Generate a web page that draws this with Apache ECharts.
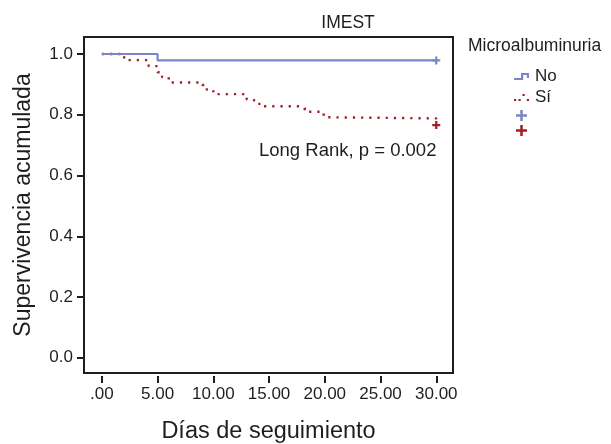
<!DOCTYPE html>
<html>
<head>
<meta charset="utf-8">
<script src="https://cdn.jsdelivr.net/npm/echarts@6/dist/echarts.min.js"></script>
<style>html,body{margin:0;padding:0;background:#fff}#c{width:611px;height:444px}</style>
</head>
<body>
<div id="c"></div>
<script>
// Kaplan-Meier step data [day, cumulative survival]
var noDays = [0, 5, 30];
var noSurv = [1.0, 0.979, 0.979];
var siDays = [0, 2, 4.2, 5, 5.4, 6, 9, 9.4, 10, 13, 13.5, 13.9, 14.5, 17.9, 18.2, 19.9, 20, 30];
var siSurv = [1.0, 0.98, 0.96, 0.94, 0.924, 0.906, 0.898, 0.883, 0.868, 0.85, 0.845, 0.836, 0.828, 0.822, 0.81, 0.792, 0.788, 0.766];
var noCensor = [[30, 0.979]];
var siCensor = [[30, 0.766]];
var xTicks = [0, 5, 10, 15, 20, 25, 30];
var yTicks = [0, 0.2, 0.4, 0.6, 0.8, 1.0];

var blue = '#7A86C6', red = '#A01E24', ink = '#1e1e1e';
function zip(a, b) { return a.map(function (v, i) { return [v, b[i]]; }); }
var crossLegend = 'path://M0,4.25H4.25V0H6.75V4.25H11V6.75H6.75V11H4.25V6.75H0Z';
var crossPlot = 'path://M0,3.6H3.6V0H6.4V3.6H10V6.4H6.4V10H3.6V6.4H0Z';
var font = 'Liberation Sans, Arial, sans-serif';

var chart = echarts.init(document.getElementById('c'));
chart.setOption({
  animation: false,
  textStyle: { fontFamily: font },
  title: {
    text: 'IMEST', left: 343, top: 9, textAlign: 'center',
    textStyle: { fontSize: 17.5, fontWeight: 'normal', color: ink, fontFamily: font }
  },
  grid: { left: 84, right: 158, top: 37, bottom: 71, show: true, borderColor: ink, borderWidth: 2,
    backgroundColor: 'transparent', outerBoundsMode: 'none', containLabel: false },
  legend: {
    orient: 'vertical', left: 514, top: 68, padding: 0, itemWidth: 15, itemHeight: 11, itemGap: 4,
    textStyle: { fontSize: 17, color: ink, fontFamily: font, lineHeight: 12, padding: [0, 0, 0, 1] },
    formatter: function (n) { return n.indexOf('+') >= 0 ? '' : n; },
    data: [
      { name: 'No', icon: 'path://M0,7H7V2H15V7H12.8V4.2H9.2V9.2H0Z' },
      { name: 'Sí', icon: 'path://M0,8H2.2V10.2H0ZM4.5,8H6.7V10.2H4.5ZM8.5,3H10.7V5.2H8.5ZM12.8,8H15V10.2H12.8Z' },
      { name: 'No+', icon: crossLegend },
      { name: 'Sí+', icon: crossLegend }
    ]
  },
  graphic: [
    { type: 'text', left: 468, top: 37, style: { text: 'Microalbuminuria', fontSize: 17.5, fill: ink, fontFamily: font } },
    { type: 'text', left: 259, top: 141, style: { text: 'Long Rank, p = 0.002', fontSize: 18.5, fill: ink, fontFamily: font } }
  ],
  xAxis: {
    type: 'value', min: -1.6, max: 31.5, offset: 3,
    name: 'Días de seguimiento', nameLocation: 'middle', nameGap: 44,
    nameTextStyle: { fontSize: 23.5, color: ink, fontFamily: font },
    axisLine: { show: false, onZero: false },
    axisTick: { show: true, inside: false, length: 7, lineStyle: { color: ink, width: 2 }, customValues: xTicks },
    axisLabel: { fontSize: 17, color: ink, margin: 10, customValues: xTicks,
      formatter: function (v) { return v === 0 ? '.00' : v.toFixed(2); } },
    splitLine: { show: false }
  },
  yAxis: {
    type: 'value', min: -0.05, max: 1.056,
    name: 'Supervivencia acumulada', nameLocation: 'middle', nameGap: 49,
    nameTextStyle: { fontSize: 23, color: ink, fontFamily: font },
    axisLine: { show: false, onZero: false },
    axisTick: { show: true, inside: false, length: 7, lineStyle: { color: ink, width: 2 }, customValues: yTicks },
    axisLabel: { fontSize: 17, color: ink, margin: 11, customValues: yTicks,
      formatter: function (v) { return v.toFixed(1); } },
    splitLine: { show: false }
  },
  series: [
    { name: 'No', type: 'line', step: 'end', data: zip(noDays, noSurv), symbol: 'none',
      lineStyle: { color: blue, width: 2.2 }, itemStyle: { color: blue }, z: 3 },
    { name: 'Sí', type: 'line', step: 'end', data: zip(siDays, siSurv), symbol: 'none',
      lineStyle: { color: red, width: 2.4, type: [2.2, 6] }, itemStyle: { color: red }, z: 2 },
    { name: 'No+', type: 'scatter', data: noCensor, symbol: crossPlot, symbolSize: 8,
      itemStyle: { color: blue, opacity: 1 }, z: 4 },
    { name: 'Sí+', type: 'scatter', data: siCensor, symbol: crossPlot, symbolSize: 8,
      itemStyle: { color: red, opacity: 1 }, z: 4 }
  ]
});
</script>
</body>
</html>
